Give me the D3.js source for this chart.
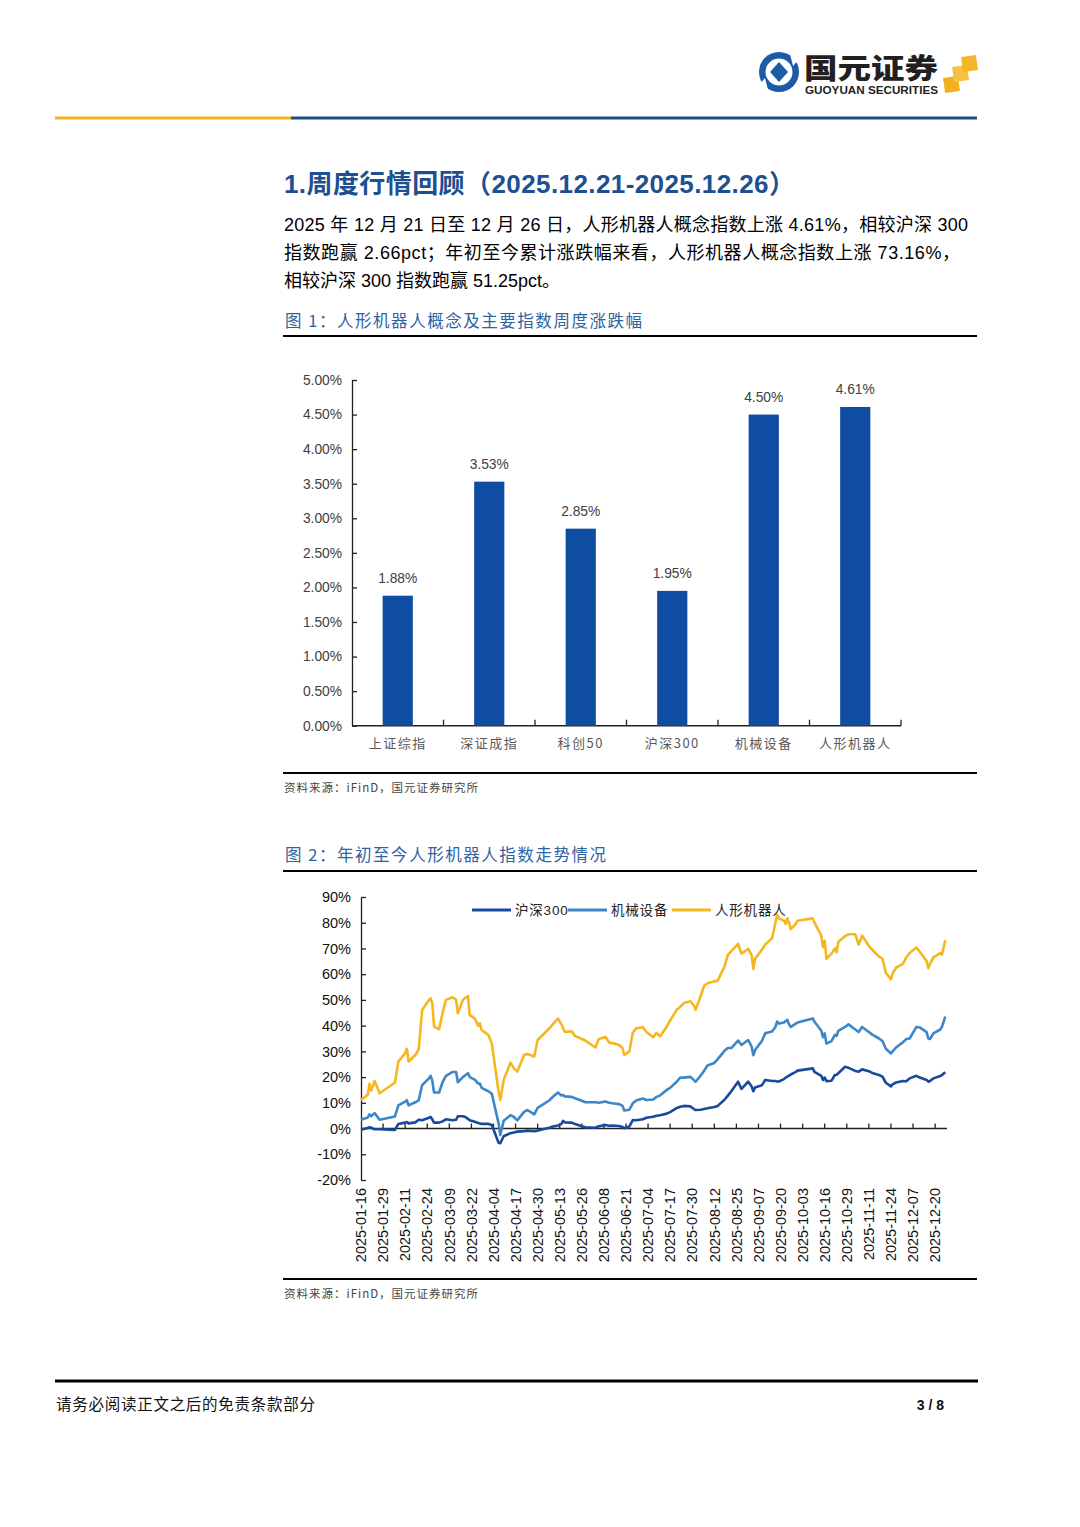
<!DOCTYPE html>
<html><head><meta charset="utf-8">
<script src="https://cdn.jsdelivr.net/npm/d3@7"></script>
<style>body{margin:0;background:#fff} svg{display:block}</style>
</head><body>
<svg id="page" width="1080" height="1527"></svg>
<script>
// ---------- DATA ----------
const barCategories = ["上证综指","深证成指","科创50","沪深300","机械设备","人形机器人"];
const barValues = [1.88, 3.53, 2.85, 1.95, 4.50, 4.61];
const barYTicks = [0, 0.5, 1.0, 1.5, 2.0, 2.5, 3.0, 3.5, 4.0, 4.5, 5.0];

const seriesNames = ["沪深300","机械设备","人形机器人"];
const lineDates = ["2025-01-16","2025-01-20","2025-01-21","2025-01-22","2025-01-24","2025-01-27","2025-02-05","2025-02-07","2025-02-11","2025-02-12","2025-02-13","2025-02-17","2025-02-19","2025-02-21","2025-02-25","2025-02-26","2025-02-27","2025-02-28","2025-03-03","2025-03-05","2025-03-07","2025-03-11","2025-03-13","2025-03-14","2025-03-17","2025-03-18","2025-03-20","2025-03-21","2025-03-24","2025-03-26","2025-03-27","2025-03-28","2025-04-01","2025-04-03","2025-04-07","2025-04-08","2025-04-10","2025-04-14","2025-04-16","2025-04-18","2025-04-22","2025-04-24","2025-04-28","2025-04-30","2025-05-07","2025-05-09","2025-05-12","2025-05-14","2025-05-15","2025-05-16","2025-05-20","2025-05-22","2025-05-26","2025-05-28","2025-06-03","2025-06-05","2025-06-09","2025-06-11","2025-06-13","2025-06-17","2025-06-19","2025-06-20","2025-06-23","2025-06-25","2025-06-27","2025-07-01","2025-07-03","2025-07-07","2025-07-09","2025-07-11","2025-07-15","2025-07-17","2025-07-21","2025-07-23","2025-07-25","2025-07-29","2025-07-31","2025-08-01","2025-08-04","2025-08-06","2025-08-08","2025-08-12","2025-08-14","2025-08-18","2025-08-20","2025-08-22","2025-08-26","2025-08-28","2025-09-01","2025-09-03","2025-09-04","2025-09-05","2025-09-09","2025-09-11","2025-09-15","2025-09-17","2025-09-18","2025-09-19","2025-09-22","2025-09-23","2025-09-24","2025-09-25","2025-09-26","2025-09-29","2025-09-30","2025-10-09","2025-10-10","2025-10-14","2025-10-15","2025-10-16","2025-10-17","2025-10-20","2025-10-22","2025-10-23","2025-10-24","2025-10-28","2025-10-30","2025-11-03","2025-11-05","2025-11-07","2025-11-11","2025-11-13","2025-11-17","2025-11-19","2025-11-21","2025-11-24","2025-11-25","2025-11-27","2025-12-01","2025-12-03","2025-12-05","2025-12-09","2025-12-11","2025-12-15","2025-12-16","2025-12-17","2025-12-19","2025-12-23","2025-12-24","2025-12-26"];
const hs300 = [-0.5,0.2,0.5,0.3,-0.3,-0.3,-0.5,1.8,2.3,2.5,2.0,2.4,3.4,3.2,4.2,4.5,3.5,2.3,2.3,2.8,3.6,3.2,3.4,4.8,4.8,4.6,3.8,3.2,2.6,2.2,2.0,1.8,1.8,1.4,-5.5,-5.7,-3.0,-1.8,-1.5,-1.2,-1.0,-0.8,-1.0,-0.8,0.3,0.8,1.2,1.8,3.0,2.4,2.3,1.8,0.9,0.5,0.3,0.9,1.4,1.1,1.2,1.0,0.6,0.1,0.8,3.3,3.2,3.6,4.2,4.6,5.0,5.2,5.8,6.4,8.0,8.5,8.8,8.6,7.6,7.2,7.3,7.6,7.9,8.4,8.8,11.2,12.8,14.5,18.2,15.4,18.2,16.3,14.5,16.0,16.8,18.9,18.5,18.5,18.3,18.3,19.2,19.8,20.2,20.6,21.0,22.0,22.5,23.4,22.0,20.5,18.9,19.8,18.4,18.6,20.8,20.9,21.5,24.0,23.6,22.4,22.1,23.0,22.3,21.6,20.8,20.2,17.8,16.4,17.2,17.9,18.5,18.4,19.5,20.5,19.8,18.9,18.2,18.5,19.5,20.4,20.8,21.91];
const machinery = [3.4,4.3,5.5,4.8,6.0,3.4,4.7,9.0,10.5,11.0,9.0,10.2,11.0,16.9,19.5,20.5,18.5,14.0,14.0,18.0,20.5,22.0,22.0,18.0,20.0,20.5,21.5,20.0,19.0,17.5,17.5,15.8,14.5,13.5,2.0,-2.5,3.0,5.2,4.5,3.2,6.5,7.2,5.5,8.0,11.0,12.4,14.0,12.8,13.0,12.5,12.3,11.8,10.8,10.2,10.2,10.0,10.5,10.0,9.8,9.5,8.8,7.0,7.3,9.8,10.9,11.7,11.1,11.3,12.3,12.8,15.0,15.8,18.3,19.8,19.8,20.1,18.8,18.2,20.6,22.5,24.5,25.5,27.0,30.2,31.3,31.3,34.2,32.5,34.4,31.8,28.5,30.5,34.0,37.0,37.7,39.5,41.6,40.8,41.2,41.8,42.2,40.5,39.5,40.8,41.2,42.8,41.5,38.0,35.5,37.0,33.0,34.0,36.4,36.0,38.0,39.5,40.5,38.5,37.5,39.5,37.5,36.5,35.0,34.0,31.0,29.2,30.0,31.5,33.5,34.8,35.0,39.5,39.3,37.5,35.0,34.8,37.0,38.5,39.5,43.5];
const robot = [11.1,13.1,17.5,14.8,18.5,13.7,17.9,26.0,29.3,31.0,26.0,28.6,30.8,46.1,50.0,50.6,48.7,39.6,38.6,44.8,50.0,51.0,50.0,44.8,50.0,50.6,51.5,44.1,42.8,39.9,40.9,38.3,36.4,33.1,14.4,11.1,18.9,25.6,23.4,22.1,28.6,29.0,28.0,34.4,39.0,40.6,42.8,40.5,39.0,37.5,37.8,36.0,34.8,34.2,31.5,34.8,35.6,33.5,33.2,32.5,31.2,28.6,30.0,37.2,39.0,39.4,37.5,35.5,37.2,35.8,39.6,42.0,46.3,47.3,48.8,49.5,47.8,46.2,51.5,55.5,56.5,57.2,57.5,63.0,67.5,69.0,71.8,68.0,69.8,67.4,62.0,66.0,69.5,71.5,74.0,80.0,83.0,81.7,80.8,79.5,81.7,80.0,77.5,79.5,80.8,81.7,80.0,75.0,70.5,73.0,66.0,68.0,70.0,68.5,72.5,74.8,75.5,75.5,71.5,75.0,71.0,69.5,66.8,66.0,60.5,58.0,60.3,62.5,64.0,66.5,68.2,70.4,68.7,65.0,62.3,64.0,66.5,68.2,67.5,73.16];
const lineTickLabels = ["2025-01-16","2025-01-29","2025-02-11","2025-02-24","2025-03-09","2025-03-22","2025-04-04","2025-04-17","2025-04-30","2025-05-13","2025-05-26","2025-06-08","2025-06-21","2025-07-04","2025-07-17","2025-07-30","2025-08-12","2025-08-25","2025-09-07","2025-09-20","2025-10-03","2025-10-16","2025-10-29","2025-11-11","2025-11-24","2025-12-07","2025-12-20"];
const lineYTicks = [-20,-10,0,10,20,30,40,50,60,70,80,90];
const lineDomainDates = ["2025-01-16","2025-12-27"];

// ---------- STYLE ----------
const LAT = "'Liberation Sans', Arial, 'Noto Sans CJK SC', sans-serif";
const CJK = "'Noto Sans CJK SC', 'Liberation Sans', sans-serif";
const BLUE_DARK = "#1F4E8C";
const svg = d3.select("#page");

// ---------- HEADER ----------
const logo = svg.append("g");
logo.append("circle").attr("cx",779).attr("cy",72).attr("r",20).attr("fill","#1D5BA6");
logo.append("circle").attr("cx",779).attr("cy",72).attr("r",13.5).attr("fill","#fff");
logo.append("path").attr("d","M779,62 L788,72 L779,82 L770,72 Z").attr("fill","#1D5BA6");
logo.append("path").attr("d","M790,54 L800,58 L793,66 Z").attr("fill","#fff");
logo.append("path").attr("d","M768,90 L758,86 L765,78 Z").attr("fill","#fff");
logo.append("text").attr("x",804).attr("y",79).attr("font-family",CJK).attr("font-weight",900)
  .attr("font-size",28).attr("fill","#231f20").attr("textLength",134).attr("lengthAdjust","spacingAndGlyphs").text("国元证券");
logo.append("text").attr("x",805).attr("y",94).attr("font-family",LAT).attr("font-weight",700)
  .attr("font-size",10).attr("fill","#231f20").attr("textLength",133).attr("lengthAdjust","spacingAndGlyphs").text("GUOYUAN SECURITIES");
[[944,77,"#F2B01E"],[953,66,"#F6C142"],[962,56,"#F4B628"]].forEach(s=>{
  logo.append("rect").attr("x",s[0]).attr("y",s[1]).attr("width",15).attr("height",15)
    .attr("fill",s[2]).attr("transform",`rotate(-8 ${s[0]+7.5} ${s[1]+7.5})`);
});
svg.append("line").attr("x1",55).attr("x2",291).attr("y1",118).attr("y2",118).attr("stroke","#F5B120").attr("stroke-width",3);
svg.append("line").attr("x1",291).attr("x2",977).attr("y1",118).attr("y2",118).attr("stroke",BLUE_DARK).attr("stroke-width",3);

// ---------- TITLE & TEXT ----------
svg.append("text").attr("x",284).attr("y",193).attr("font-family",LAT).attr("font-weight",700)
  .attr("font-size",26).attr("fill","#1D4F91").attr("textLength",511).attr("lengthAdjust","spacing")
  .text("1.周度行情回顾（2025.12.21-2025.12.26）");
const para = [
  ["2025 年 12 月 21 日至 12 月 26 日，人形机器人概念指数上涨 4.61%，相较沪深 300", 684],
  ["指数跑赢 2.66pct；年初至今累计涨跌幅来看，人形机器人概念指数上涨 73.16%，", 676],
  ["相较沪深 300 指数跑赢 51.25pct。", null]
];
para.forEach((p,i)=>{
  const t = svg.append("text").attr("x",284).attr("y",231+i*28).attr("font-family",LAT)
    .attr("font-size",18).attr("fill","#000").text(p[0]);
  if (p[1]) t.attr("textLength",p[1]).attr("lengthAdjust","spacing");
});

function caption(y, txt, len){
  svg.append("text").attr("x",285).attr("y",y).attr("font-family",CJK).attr("font-size",16.5)
    .attr("fill","#2E62A1").attr("textLength",len).attr("lengthAdjust","spacing").text(txt);
}
function rule(y){
  svg.append("line").attr("x1",283).attr("x2",977).attr("y1",y).attr("y2",y).attr("stroke","#000").attr("stroke-width",1.8);
}
function source(y){
  svg.append("text").attr("x",284).attr("y",y).attr("font-family",CJK).attr("font-size",11.5)
    .attr("fill","#444").attr("letter-spacing",1).text("资料来源：iFinD，国元证券研究所");
}
caption(327,"图 1：人形机器人概念及主要指数周度涨跌幅",357);
rule(336); rule(773); source(792);
caption(861,"图 2：年初至今人形机器人指数走势情况",321);
rule(871); rule(1279); source(1298);

// ---------- BAR CHART ----------
const bx = d3.scaleBand().domain(barCategories).range([352, 901]).padding(0);
const by = d3.scaleLinear().domain([0, 5]).range([725.7, 380]);
const bg = svg.append("g");
const byAxis = d3.axisLeft(by).tickValues(barYTicks).tickSizeInner(-5).tickSizeOuter(0).tickPadding(10)
  .tickFormat(d => d.toFixed(2) + "%");
const bya = bg.append("g").attr("transform","translate(352,0)").call(byAxis);
bya.select(".domain").attr("stroke","#222").attr("stroke-width",1.3);
bya.selectAll(".tick line").attr("stroke","#222").attr("stroke-width",1.3);
bya.selectAll(".tick text").attr("font-family",LAT).attr("font-size",13.8).attr("fill","#404040");
bg.append("line").attr("x1",352).attr("x2",901).attr("y1",by(0)).attr("y2",by(0)).attr("stroke","#222").attr("stroke-width",1.5);
bg.selectAll(".bxt").data(barCategories).join("line")
  .attr("x1",d=>bx(d)+bx.bandwidth()).attr("x2",d=>bx(d)+bx.bandwidth())
  .attr("y1",by(0)).attr("y2",by(0)-6).attr("stroke","#222").attr("stroke-width",1.3);
const bw = bx.bandwidth()*0.33;
bg.selectAll(".bar").data(barCategories).join("rect")
  .attr("x",d=>bx(d)+bx.bandwidth()/2-bw/2).attr("width",bw)
  .attr("y",(d,i)=>by(barValues[i])).attr("height",(d,i)=>by(0)-by(barValues[i]))
  .attr("fill","#0E4DA2");
bg.selectAll(".blab").data(barCategories).join("text")
  .attr("x",d=>bx(d)+bx.bandwidth()/2).attr("y",(d,i)=>by(barValues[i])-13)
  .attr("text-anchor","middle").attr("font-family",LAT).attr("font-size",13.8).attr("fill","#404040")
  .text((d,i)=>barValues[i].toFixed(2)+"%");
bg.selectAll(".bcat").data(barCategories).join("text")
  .attr("x",d=>bx(d)+bx.bandwidth()/2).attr("y",748)
  .attr("text-anchor","middle").attr("font-family",CJK).attr("font-size",13).attr("fill","#595959")
  .attr("letter-spacing",1.5).text(d=>d);

// ---------- LINE CHART ----------
const parse = d3.timeParse("%Y-%m-%d");
const lx = d3.scaleTime().domain(lineDomainDates.map(parse)).range([361, 947]);
const ly = d3.scaleLinear().domain([-20, 90]).range([1180, 897]);
const lg = svg.append("g");
const lyAxis = d3.axisLeft(ly).tickValues(lineYTicks).tickSizeInner(-5).tickSizeOuter(0).tickPadding(10)
  .tickFormat(d => d + "%");
const lya = lg.append("g").attr("transform","translate(361,0)").call(lyAxis);
lya.select(".domain").attr("stroke","#222").attr("stroke-width",1.3);
lya.selectAll(".tick line").attr("stroke","#222").attr("stroke-width",1.3);
lya.selectAll(".tick text").attr("font-family",LAT).attr("font-size",14.5).attr("fill","#111");
lg.append("line").attr("x1",361).attr("x2",947).attr("y1",ly(0)).attr("y2",ly(0)).attr("stroke","#222").attr("stroke-width",1.5);
const tickDates = lineTickLabels.map(parse);
lg.selectAll(".lxt").data(tickDates.slice(1)).join("line")
  .attr("x1",d=>lx(d)).attr("x2",d=>lx(d)).attr("y1",ly(0)).attr("y2",ly(0)-5)
  .attr("stroke","#222").attr("stroke-width",1.3);
lg.selectAll(".lxl").data(lineTickLabels).join("text")
  .attr("transform",d=>`translate(${lx(parse(d))},1188) rotate(-90)`)
  .attr("text-anchor","end").attr("dy","0.36em")
  .attr("font-family",LAT).attr("font-size",14.5).attr("fill","#111").text(d=>d);

const seriesColors = ["#174A9C","#3D87C8","#F5B71F"];
const seriesValues = [hs300, machinery, robot];
const lineGen = d3.line().x(d=>lx(d[0])).y(d=>ly(d[1]));
const dts = lineDates.map(parse);
seriesValues.forEach((vals,si)=>{
  lg.append("path").datum(dts.map((d,i)=>[d, vals[i]]))
    .attr("d", lineGen).attr("fill","none").attr("stroke",seriesColors[si])
    .attr("stroke-width",2.6).attr("stroke-linejoin","round");
});
const legendX = [472, 568, 672];
seriesNames.forEach((n,i)=>{
  lg.append("line").attr("x1",legendX[i]).attr("x2",legendX[i]+39).attr("y1",910).attr("y2",910)
    .attr("stroke",seriesColors[i]).attr("stroke-width",2.8);
  lg.append("text").attr("x",legendX[i]+43).attr("y",915).attr("font-family",LAT)
    .attr("font-size",13.5).attr("fill","#222").attr("letter-spacing",0.8).text(n);
});

// ---------- FOOTER ----------
svg.append("line").attr("x1",55).attr("x2",978).attr("y1",1381).attr("y2",1381).attr("stroke","#000").attr("stroke-width",3);
svg.append("text").attr("x",56).attr("y",1410).attr("font-family",CJK).attr("font-size",15.5)
  .attr("fill","#111").attr("textLength",259).attr("lengthAdjust","spacing").text("请务必阅读正文之后的免责条款部分");
svg.append("text").attr("x",944).attr("y",1410).attr("text-anchor","end").attr("font-family",LAT)
  .attr("font-weight",700).attr("font-size",14).attr("fill","#111").text("3 / 8");
</script>
</body></html>
